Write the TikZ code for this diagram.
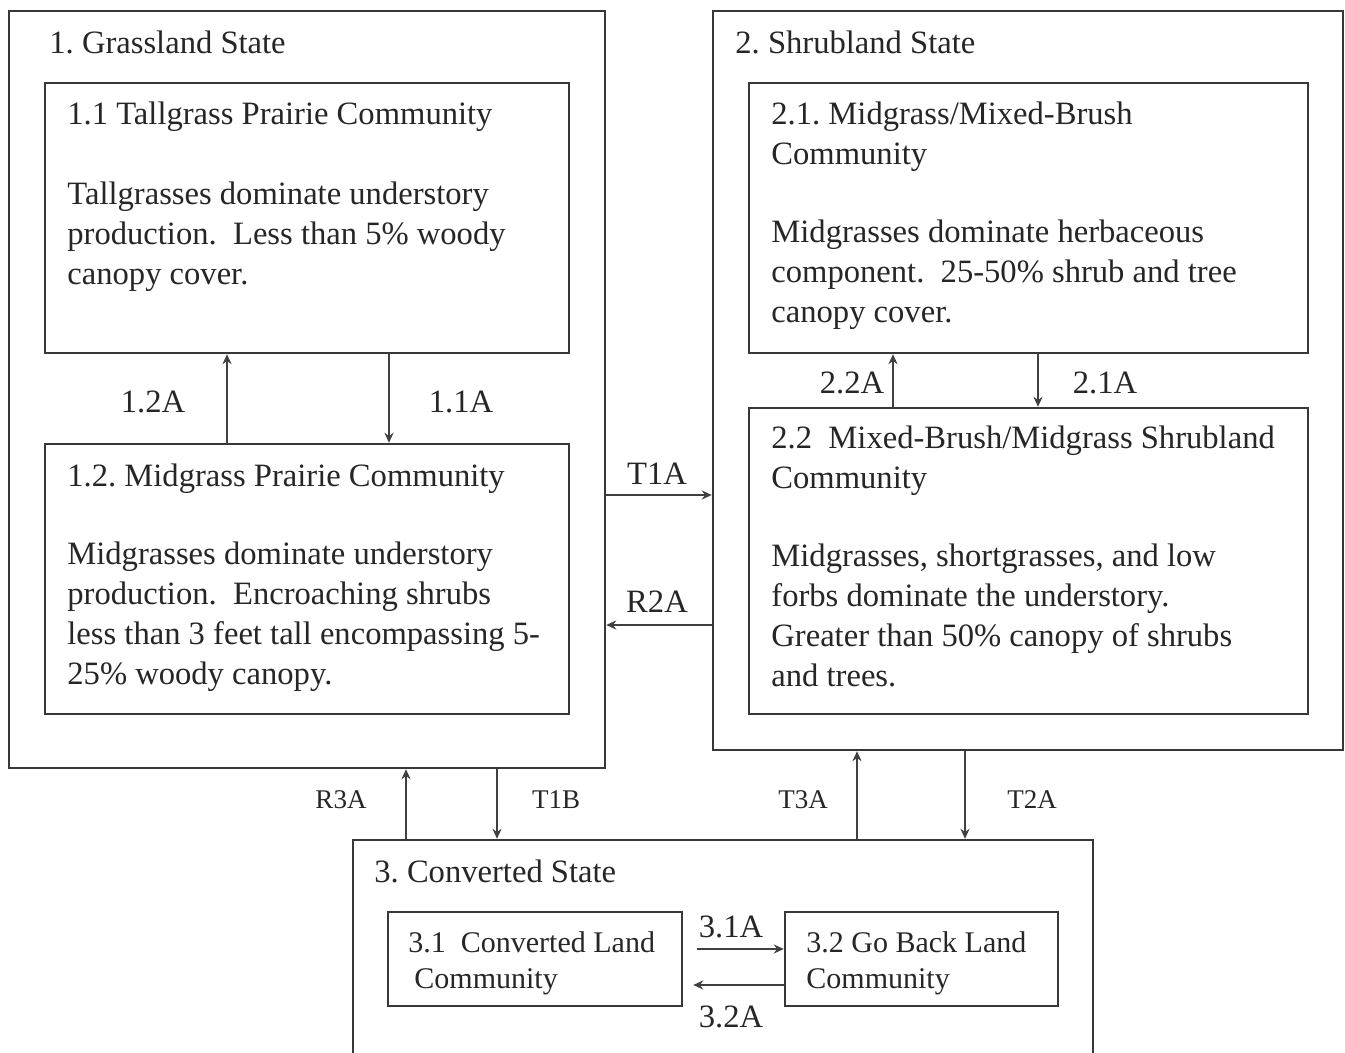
\documentclass[tikz,border=0pt]{standalone}
\usepackage{fontspec}
\setmainfont{Liberation Serif}
\usetikzlibrary{arrows.meta,fit}
\frenchspacing
\newcommand\fbig{\fontsize{16.3}{20}\selectfont}
\newcommand\fmid{\fontsize{15}{18}\selectfont}
\newcommand\fsmall{\fontsize{13.5}{16}\selectfont}
\begin{document}
\begin{tikzpicture}[x=0.5pt,y=-0.5pt,
 box/.style={draw=black!78, line width=1.2pt, inner sep=0pt},
 txt/.style={inner sep=0pt, anchor=north west, align=left, text=black!85, font=\fbig},
 txtm/.style={txt, font=\fmid},
 lab/.style={inner sep=0pt, anchor=base, text=black!85, font=\fbig},
 slab/.style={lab, font=\fsmall},
 arr/.style={draw=black!75, line width=1pt, -{Stealth[length=5pt,width=4.5pt]}}]
\useasboundingbox (0,0) rectangle (1345,1053);
\fill[white] (0,0) rectangle (1345,1053);
\clip (0,0) rectangle (1345,1053);
% boxes
\node[box, fit={(9,11)(605,768)}] (s1) {};
\node[box, fit={(45,83)(569,353)}] (c11) {};
\node[box, fit={(45,444)(569,714)}] (c12) {};
\node[box, fit={(713,11)(1343,750)}] (s2) {};
\node[box, fit={(749,83)(1308,353)}] (c21) {};
\node[box, fit={(749,408)(1308,714)}] (c22) {};
\node[box, fit={(353,840)(1093,1120)}] (s3) {};
\node[box, fit={(388,912)(682,1006)}] (c31) {};
\node[box, fit={(785,912)(1058,1006)}] (c32) {};
% texts
\node[txt] (h1) at (49,25) {\strut 1. Grassland State};
\node[txt] (t11) at (67,96) {\strut 1.1 Tallgrass Prairie Community\\[20pt]Tallgrasses dominate understory\\production.\ \ Less than 5\% woody\\canopy cover.};
\node[txt] (t12) at (67,458) {\strut 1.2. Midgrass Prairie Community\\[19pt]Midgrasses dominate understory\\production.\ \ Encroaching shrubs\\less than 3 feet tall encompassing 5-\\25\% woody canopy.};
\node[txt] (h2) at (735,25) {\strut 2. Shrubland State};
\node[txt] (t21) at (771,96) {\strut 2.1.\ Midgrass/Mixed-Brush\\Community\\[19pt]Midgrasses dominate herbaceous\\component.\ \ 25-50\% shrub and tree\\canopy cover.};
\node[txt] (t22) at (771,420) {\strut 2.2\ \ Mixed-Brush/Midgrass Shrubland\\Community\\[19pt]Midgrasses, shortgrasses, and low\\forbs dominate the understory.\\Greater than 50\% canopy of shrubs\\and trees.};
\node[txt] (h3) at (374,854) {\strut 3. Converted State};
\node[txtm] (t31) at (408,927) {\strut 3.1\ \ Converted Land\\\hspace{3pt}Community};
\node[txtm] (t32) at (806,927) {\strut 3.2 Go Back Land\\Community};
% coordinates for connectors
\coordinate (xa) at (227,0);
\coordinate (xb) at (389,0);
\coordinate (xc) at (893,0);
\coordinate (xd) at (1038,0);
\coordinate (xe) at (406,0);
\coordinate (xf) at (497,0);
\coordinate (xg) at (857,0);
\coordinate (xh) at (965,0);
\coordinate (ya) at (0,495);
\coordinate (yb) at (0,625);
\coordinate (yc) at (0,949);
\coordinate (yd) at (0,985);
% connectors
\draw[arr] (c12.north -| xa) -- (c11.south -| xa);
\draw[arr] (c11.south -| xb) -- (c12.north -| xb);
\draw[arr] (c22.north -| xc) -- (c21.south -| xc);
\draw[arr] (c21.south -| xd) -- (c22.north -| xd);
\draw[arr] (s1.east |- ya) -- (s2.west |- ya);
\draw[arr] (s2.west |- yb) -- (s1.east |- yb);
\draw[arr] (s3.north -| xe) -- (s1.south -| xe);
\draw[arr] (s1.south -| xf) -- (s3.north -| xf);
\draw[arr] (s3.north -| xg) -- (s2.south -| xg);
\draw[arr] (s2.south -| xh) -- (s3.north -| xh);
\draw[arr, shorten <=7pt] (c31.east |- yc) -- (c32.west |- yc);
\draw[arr, shorten >=5pt] (c32.west |- yd) -- (c31.east |- yd);
% labels
\node[lab] (l12a) at (153,413) {1.2A};
\node[lab] (l11a) at (461,413) {1.1A};
\node[lab] (l22a) at (852,394) {2.2A};
\node[lab] (l21a) at (1105,394) {2.1A};
\node[lab] (lt1a) at (657,485) {T1A};
\node[lab] (lr2a) at (657,612) {R2A};
\node[slab] (lr3a) at (341,808) {R3A};
\node[slab] (lt1b) at (556,808) {T1B};
\node[slab] (lt3a) at (803,808) {T3A};
\node[slab] (lt2a) at (1032,808) {T2A};
\node[lab] (l31a) at (731,937) {3.1A};
\node[lab] (l32a) at (731,1027) {3.2A};
\end{tikzpicture}
\end{document}
